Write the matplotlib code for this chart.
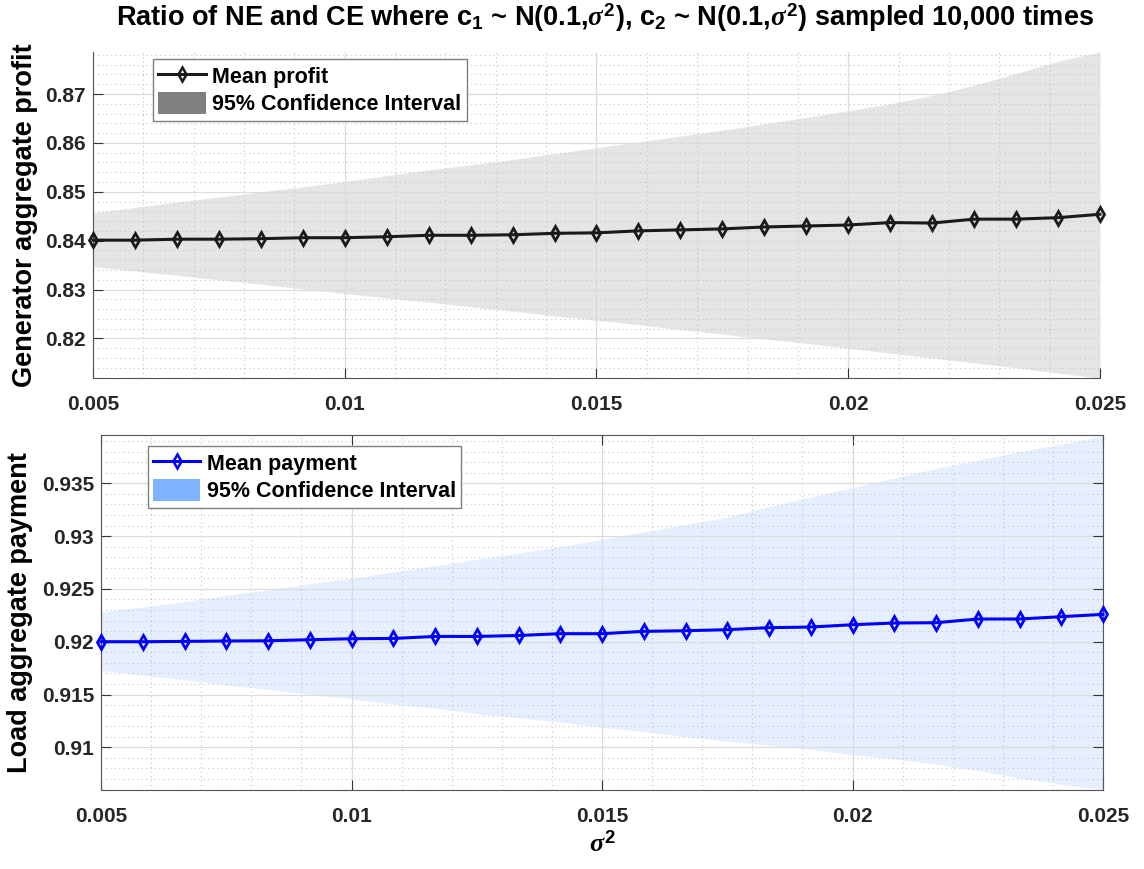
import matplotlib.pyplot as plt
from matplotlib.patches import Patch
from matplotlib.lines import Line2D
from matplotlib.ticker import MultipleLocator

# sigma^2 values (x axis)
sigma2 = [0.005, 0.005833, 0.006667, 0.0075, 0.008333, 0.009167, 0.01, 0.010833,
          0.011667, 0.0125, 0.013333, 0.014167, 0.015, 0.015833, 0.016667, 0.0175,
          0.018333, 0.019167, 0.02, 0.020833, 0.021667, 0.0225, 0.023333, 0.024167, 0.025]

# generator aggregate profit ratio
profit_mean = [0.8401, 0.8401, 0.8403, 0.8403, 0.8404, 0.8406, 0.8406, 0.8408, 0.8411,
               0.8411, 0.8412, 0.8415, 0.8416, 0.8420, 0.8422, 0.8424, 0.8428, 0.8430,
               0.8432, 0.8437, 0.8436, 0.8444, 0.8444, 0.8447, 0.8454]
profit_upper = [0.8457, 0.8468, 0.8479, 0.8489, 0.8500, 0.8510, 0.8521, 0.8533, 0.8545,
                0.8555, 0.8566, 0.8578, 0.8590, 0.8602, 0.8614, 0.8626, 0.8639, 0.8652,
                0.8666, 0.8680, 0.8697, 0.8718, 0.8742, 0.8767, 0.8786]
profit_lower = [0.8347, 0.8338, 0.8329, 0.8320, 0.8311, 0.8301, 0.8292, 0.8283, 0.8274,
                0.8265, 0.8256, 0.8246, 0.8237, 0.8228, 0.8218, 0.8209, 0.8199, 0.8190,
                0.8180, 0.8170, 0.8160, 0.8150, 0.8140, 0.8129, 0.8119]

# load aggregate payment ratio
payment_mean = [0.92000, 0.92000, 0.92003, 0.92007, 0.92009, 0.92019, 0.92028, 0.92031,
                0.92050, 0.92050, 0.92059, 0.92076, 0.92076, 0.92098, 0.92104, 0.92114,
                0.92133, 0.92139, 0.92161, 0.92177, 0.92180, 0.92215, 0.92215, 0.92237,
                0.92259]
payment_upper = [0.9228, 0.9233, 0.9238, 0.9244, 0.9249, 0.9255, 0.9260, 0.9266, 0.9272,
                 0.9278, 0.9284, 0.9290, 0.9297, 0.9304, 0.9311, 0.9318, 0.9328, 0.9337,
                 0.9346, 0.9355, 0.9364, 0.9372, 0.9380, 0.9387, 0.9395]
payment_lower = [0.9173, 0.9168, 0.9164, 0.9159, 0.9155, 0.9150, 0.9146, 0.9141, 0.9137,
                 0.9132, 0.9128, 0.9124, 0.9119, 0.9115, 0.9110, 0.9106, 0.9102, 0.9098,
                 0.9093, 0.9089, 0.9084, 0.9078, 0.9071, 0.9065, 0.9060]

x_ticks = [0.005, 0.01, 0.015, 0.02, 0.025]
x_labels = ['0.005', '0.01', '0.015', '0.02', '0.025']
profit_ticks = [0.82, 0.83, 0.84, 0.85, 0.86, 0.87]
profit_labels = ['0.82', '0.83', '0.84', '0.85', '0.86', '0.87']
payment_ticks = [0.91, 0.915, 0.92, 0.925, 0.93, 0.935]
payment_labels = ['0.91', '0.915', '0.92', '0.925', '0.93', '0.935']

plt.rcParams['font.family'] = ['Liberation Sans', 'DejaVu Sans']
plt.rcParams['font.weight'] = 'bold'
plt.rcParams['mathtext.fontset'] = 'custom'
plt.rcParams['mathtext.rm'] = 'Liberation Sans:bold'
plt.rcParams['mathtext.bf'] = 'Liberation Sans:bold'
plt.rcParams['mathtext.it'] = 'Liberation Serif:italic'

fig = plt.figure(figsize=(11.44, 8.69), dpi=100)
ax1 = fig.add_axes([0.0813, 0.565, 0.8802, 0.3752])
ax2 = fig.add_axes([0.0883, 0.0909, 0.8759, 0.4085])


def style_axes(ax, yticks, ylabels, ylim, minor_y, box):
    ax.set_xlim(0.005, 0.025)
    ax.set_ylim(*ylim)
    ax.set_xticks(x_ticks)
    ax.set_xticklabels(x_labels)
    ax.set_yticks(yticks)
    ax.set_yticklabels(ylabels)
    ax.xaxis.set_minor_locator(MultipleLocator(0.001))
    ax.yaxis.set_minor_locator(MultipleLocator(minor_y))
    ax.grid(True, which='major', color='#dcdcdc', linestyle='-', linewidth=0.9)
    ax.grid(True, which='minor', color='#c4c4c4', linestyle=(0, (1, 3)), linewidth=0.8)
    ax.tick_params(which='major', direction='in', length=7, width=0.8, color='#333333',
                   labelsize=15, pad=5, top=box, right=box)
    ax.tick_params(axis='x', which='major', pad=12)
    ax.tick_params(which='minor', length=0)
    for lbl in ax.get_xticklabels() + ax.get_yticklabels():
        lbl.set_fontweight('bold')
        lbl.set_color('#262626')
    for side in ['left', 'bottom', 'top', 'right']:
        ax.spines[side].set_color('#555555')
        ax.spines[side].set_linewidth(0.8)
    if not box:
        ax.spines['top'].set_visible(False)
        ax.spines['right'].set_visible(False)


def add_legend(ax, color, fill, label, anchor):
    handles = [Line2D([], [], color=color, linewidth=2.2, marker='d', markersize=7,
                      markerfacecolor='none', markeredgewidth=1.8),
               Patch(facecolor=fill, edgecolor='none')]
    ax.legend(handles, [label, '95% Confidence Interval'], loc='upper left',
              bbox_to_anchor=anchor, fancybox=False, edgecolor='#7f7f7f',
              framealpha=1, prop={'weight': 'bold', 'size': 15.5}, handlelength=2.2,
              handleheight=1.2, borderpad=0.25, labelspacing=0.2, handletextpad=0.3,
              borderaxespad=0)


# top panel: generator profit
ax1.fill_between(sigma2, profit_lower, profit_upper, color='#808080', alpha=0.2,
                 linewidth=0, zorder=1)
ax1.plot(sigma2, profit_mean, color='#1a1a1a', linewidth=2.2, marker='d', markersize=7.5,
         markerfacecolor='none', markeredgewidth=2, zorder=3, clip_on=False)
style_axes(ax1, profit_ticks, profit_labels, (0.8119, 0.8786), 0.002, False)
ax1.set_ylabel('Generator aggregate profit', fontsize=19.5, fontweight='bold')
ax1.yaxis.set_label_coords(-0.0546, 0.5)
add_legend(ax1, '#1a1a1a', '#808080', 'Mean profit', (0.0596, 0.9785))

# bottom panel: load payment
ax2.fill_between(sigma2, payment_lower, payment_upper, color='#80b3ff', alpha=0.2,
                 linewidth=0, zorder=1)
ax2.plot(sigma2, payment_mean, color='#0000ff', linewidth=2.2, marker='d', markersize=7.5,
         markerfacecolor='none', markeredgewidth=2, zorder=3, clip_on=False)
style_axes(ax2, payment_ticks, payment_labels, (0.90596, 0.93957), 0.001, True)
ax2.set_ylabel('Load aggregate payment', fontsize=19.5, fontweight='bold')
ax2.yaxis.set_label_coords(-0.0679, 0.5)
ax2.set_xlabel(r'$\sigma^{2}$', fontsize=19, labelpad=4)
add_legend(ax2, '#0000ff', '#80b3ff', 'Mean payment', (0.0466, 0.969))

fig.text(0.529, 0.980,
         r'Ratio of NE and CE where c$_{1}$ ~ N(0.1,$\sigma^{2}$), '
         r'c$_{2}$ ~ N(0.1,$\sigma^{2}$) sampled 10,000 times',
         ha='center', va='center', fontsize=19.5, fontweight='bold')

fig.savefig('out.png', dpi=100)
